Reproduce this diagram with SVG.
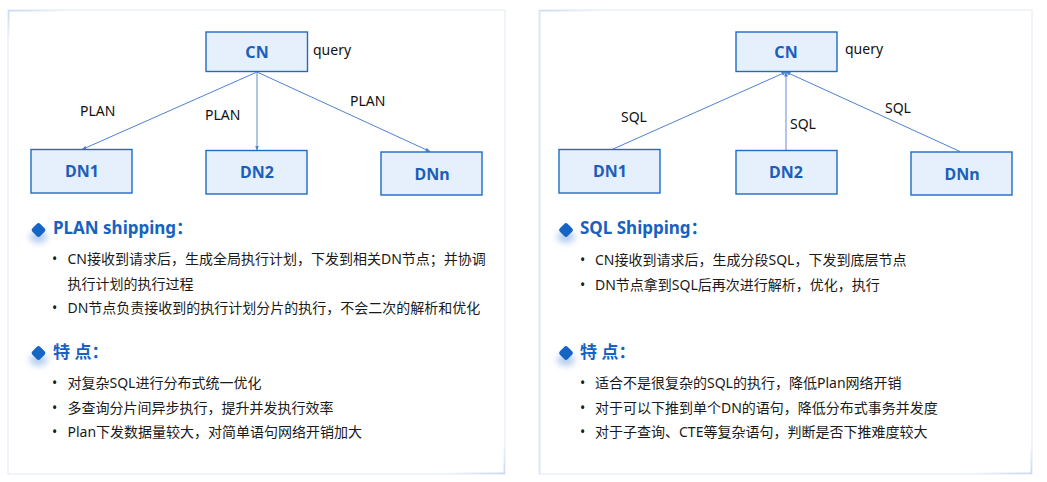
<svg xmlns="http://www.w3.org/2000/svg" width="1047" height="482" viewBox="0 0 1047 482">
  <defs>
    <style>
      .panel { fill: #ffffff; stroke: #e6edf7; stroke-width: 1.2; }
      .node rect { fill: #e5f0fc; stroke: #1f6bc6; stroke-width: 1.4; }
      .node text { font-family: "Noto Sans", "Liberation Sans", sans-serif; font-weight: bold; font-size: 16px; fill: #1c5fba; text-anchor: middle; }
      .lbl { font-family: "Noto Sans", "Liberation Sans", sans-serif; font-size: 14px; fill: #111111; }
      .conn { stroke: #4f82d2; stroke-width: 1; fill: none; }
      .conn-mid { stroke: #9db8e2; stroke-width: 1.6; fill: none; }
      .head { font-family: "Noto Sans", "Noto Sans CJK SC", sans-serif; font-weight: bold; font-size: 17px; fill: #1762c0; }
      .body { font-family: "Noto Sans", "Noto Sans CJK SC", sans-serif; font-size: 14px; fill: #1a1a1a; }
      .dot { fill: #1565c4; }
    </style>
    <marker id="arr" viewBox="0 0 10 10" refX="9" refY="5" markerWidth="5" markerHeight="5" markerUnits="userSpaceOnUse" orient="auto">
      <path d="M0,1 L10,5 L0,9 z" fill="#4f82d2"/>
    </marker>
    <filter id="glow" x="-100%" y="-100%" width="300%" height="300%">
      <feGaussianBlur stdDeviation="3"/>
    </filter>
    <linearGradient id="tl" x1="0" y1="0" x2="1" y2="0">
      <stop offset="0" stop-color="#c8d9f1"/>
      <stop offset="1" stop-color="#c8d9f1" stop-opacity="0"/>
    </linearGradient>
    <linearGradient id="tlv" x1="0" y1="0" x2="0" y2="1">
      <stop offset="0" stop-color="#c8d9f1"/>
      <stop offset="1" stop-color="#c8d9f1" stop-opacity="0"/>
    </linearGradient>
    <linearGradient id="br" x1="1" y1="0" x2="0" y2="0">
      <stop offset="0" stop-color="#c8d9f1"/>
      <stop offset="1" stop-color="#c8d9f1" stop-opacity="0"/>
    </linearGradient>
    <linearGradient id="brv" x1="0" y1="1" x2="0" y2="0">
      <stop offset="0" stop-color="#c8d9f1"/>
      <stop offset="1" stop-color="#c8d9f1" stop-opacity="0"/>
    </linearGradient>
    <g id="diamond">
      <ellipse cx="0" cy="7" rx="9" ry="6" fill="#9dbde9" opacity="0.75" filter="url(#glow)"/>
      <rect x="-5.6" y="-5.6" width="11.2" height="11.2" rx="2.6" transform="rotate(45)" class="dot"/>
    </g>
  </defs>

  <rect width="1047" height="482" fill="#ffffff"/>

  <!-- panels -->
  <g id="panel-left">
    <rect class="panel" x="8" y="10" width="497" height="464"/>
    <rect x="8" y="10" width="60" height="1.5" fill="url(#tl)"/>
    <rect x="8" y="10" width="1.5" height="30" fill="url(#tlv)"/>
    <rect x="445" y="472.5" width="60" height="1.5" fill="url(#br)"/>
    <rect x="503.5" y="444" width="1.5" height="30" fill="url(#brv)"/>
  </g>
  <g id="panel-right">
    <rect class="panel" x="539" y="10" width="493" height="464"/>
    <rect x="539" y="10" width="60" height="1.5" fill="url(#tl)"/>
    <rect x="539" y="10" width="1.5" height="464" fill="#dbe6f5"/>
    <rect x="972" y="472.5" width="60" height="1.5" fill="url(#br)"/>
    <rect x="1030.5" y="444" width="1.5" height="30" fill="url(#brv)"/>
  </g>

  <!-- connectors -->
  <g id="connectors">
    <line class="conn" x1="257" y1="72" x2="82" y2="149.5" marker-end="url(#arr)"/>
    <line class="conn-mid" x1="257" y1="72" x2="257" y2="150" marker-end="url(#arr)"/>
    <line class="conn" x1="257" y1="72" x2="430" y2="151.5" marker-end="url(#arr)"/>
    <line class="conn" x1="612" y1="149.5" x2="786" y2="72" marker-end="url(#arr)"/>
    <line class="conn-mid" x1="786" y1="150" x2="786" y2="72" marker-end="url(#arr)"/>
    <line class="conn" x1="960" y1="151.5" x2="786" y2="72" marker-end="url(#arr)"/>
  </g>

  <!-- connector labels -->
  <g id="labels">
    <text class="lbl" x="313" y="55">query</text>
    <text class="lbl" x="80" y="116">PLAN</text>
    <text class="lbl" x="205" y="120">PLAN</text>
    <text class="lbl" x="350" y="106">PLAN</text>
    <text class="lbl" x="845" y="54">query</text>
    <text class="lbl" x="621" y="122">SQL</text>
    <text class="lbl" x="790" y="129">SQL</text>
    <text class="lbl" x="885" y="113">SQL</text>
  </g>

  <!-- left nodes -->
  <g id="cn-left" class="node">
    <rect x="206" y="32" width="101.5" height="39.5"/>
    <text x="257" y="57.5">CN</text>
  </g>
  <g id="dn1-left" class="node">
    <rect x="31" y="149.5" width="101" height="43.5"/>
    <text x="82" y="177">DN1</text>
  </g>
  <g id="dn2-left" class="node">
    <rect x="206" y="150.5" width="101" height="43.5"/>
    <text x="257" y="178">DN2</text>
  </g>
  <g id="dnn-left" class="node">
    <rect x="381" y="152" width="101" height="43"/>
    <text x="432" y="180">DNn</text>
  </g>

  <!-- right nodes -->
  <g id="cn-right" class="node">
    <rect x="736" y="32" width="101" height="39.5"/>
    <text x="786" y="57.5">CN</text>
  </g>
  <g id="dn1-right" class="node">
    <rect x="559" y="149.5" width="101" height="43.5"/>
    <text x="610" y="177">DN1</text>
  </g>
  <g id="dn2-right" class="node">
    <rect x="736" y="150.5" width="101" height="43.5"/>
    <text x="786" y="178">DN2</text>
  </g>
  <g id="dnn-right" class="node">
    <rect x="911" y="152" width="101" height="43"/>
    <text x="962" y="180">DNn</text>
  </g>

  <!-- left text -->
  <g id="text-left">
    <use href="#diamond" x="38.5" y="230"/>
    <text class="head" x="53" y="233.5">PLAN shipping：</text>
    <text class="body" x="52" y="264">•</text>
    <text class="body" x="67.5" y="264">CN接收到请求后，生成全局执行计划，下发到相关DN节点；并协调</text>
    <text class="body" x="67.5" y="289">执行计划的执行过程</text>
    <text class="body" x="52" y="313">•</text>
    <text class="body" x="67.5" y="313">DN节点负责接收到的执行计划分片的执行，不会二次的解析和优化</text>

    <use href="#diamond" x="38.5" y="353"/>
    <text class="head" x="53" y="357.5">特 点：</text>
    <text class="body" x="52" y="388">•</text>
    <text class="body" x="67.5" y="388">对复杂SQL进行分布式统一优化</text>
    <text class="body" x="52" y="412.5">•</text>
    <text class="body" x="67.5" y="412.5">多查询分片间异步执行，提升并发执行效率</text>
    <text class="body" x="52" y="437">•</text>
    <text class="body" x="67.5" y="437">Plan下发数据量较大，对简单语句网络开销加大</text>
  </g>

  <!-- right text -->
  <g id="text-right">
    <use href="#diamond" x="566" y="230"/>
    <text class="head" x="580" y="233.5">SQL Shipping：</text>
    <text class="body" x="580" y="264.5">•</text>
    <text class="body" x="595" y="264.5">CN接收到请求后，生成分段SQL，下发到底层节点</text>
    <text class="body" x="580" y="289.5">•</text>
    <text class="body" x="595" y="289.5">DN节点拿到SQL后再次进行解析，优化，执行</text>

    <use href="#diamond" x="566" y="353"/>
    <text class="head" x="580" y="357.5">特 点：</text>
    <text class="body" x="580" y="388">•</text>
    <text class="body" x="595" y="388">适合不是很复杂的SQL的执行，降低Plan网络开销</text>
    <text class="body" x="580" y="412.5">•</text>
    <text class="body" x="595" y="412.5">对于可以下推到单个DN的语句，降低分布式事务并发度</text>
    <text class="body" x="580" y="437">•</text>
    <text class="body" x="595" y="437">对于子查询、CTE等复杂语句，判断是否下推难度较大</text>
  </g>
</svg>
